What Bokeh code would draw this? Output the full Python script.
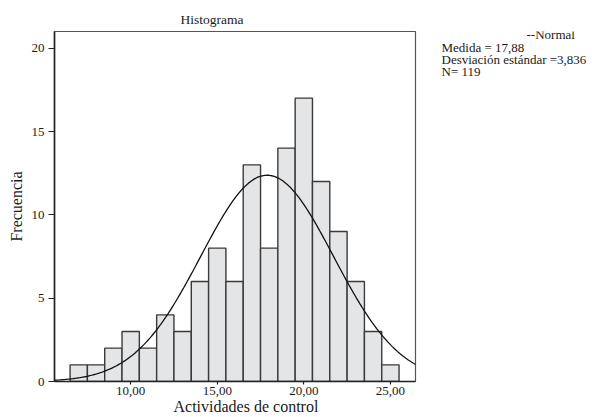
import numpy as np
from bokeh.plotting import figure
from bokeh.models import Label, FixedTicker, Title
from bokeh.layouts import row
from bokeh.embed import file_html
from bokeh.resources import INLINE

# ---- data ----
bin_centers = [7, 8, 9, 10, 11, 12, 13, 14, 15, 16, 17, 18, 19, 20, 21, 22, 23, 24, 25]
counts = [1, 1, 2, 3, 2, 4, 3, 6, 8, 6, 13, 8, 14, 17, 12, 9, 6, 3, 1]
bin_width = 1.0
x_ticks = [10, 15, 20, 25]
x_tick_labels = ["10,00", "15,00", "20,00", "25,00"]
y_ticks = [0, 5, 10, 15, 20]
mean_val = 17.88
sd_val = 3.836
n_val = 119
title_text = "Histograma"
x_label = "Actividades de control"
y_label = "Frecuencia"
legend_lines = ["Medida = 17,88", "Desviación estándar =3,836", "N= 119"]
legend_head = "--Normal"

FONT = "Liberation Serif"
TXT = "#1a1a1a"

X0, X1 = 5.6, 26.45
Y0, Y1 = 0.0, 21.0
H = 417
W1 = 425
W2 = 592 - W1

p = figure(width=W1, height=H, x_range=(X0, X1), y_range=(Y0, Y1),
           output_backend="svg", toolbar_location=None,
           min_border_left=54, min_border_right=W1 - 415,
           min_border_top=31, min_border_bottom=36)
p.background_fill_color = "white"
p.border_fill_color = "white"
p.outline_line_color = "#555555"
p.outline_line_width = 1.2
p.xgrid.visible = False
p.ygrid.visible = False

p.quad(left=[c - bin_width / 2 for c in bin_centers],
       right=[c + bin_width / 2 for c in bin_centers],
       bottom=0, top=counts,
       fill_color="#e4e5e7", line_color="#3a3a3a", line_width=1.4)

xs = np.linspace(X0, X1, 300)
ys = n_val * bin_width * np.exp(-0.5 * ((xs - mean_val) / sd_val) ** 2) / (sd_val * np.sqrt(2 * np.pi))
p.line(xs, ys, line_color="#111111", line_width=1.3)

for ax in (p.xaxis[0], p.yaxis[0]):
    ax.axis_line_color = "#222222"
    ax.axis_line_width = 1.6
    ax.major_tick_line_color = "#222222"
    ax.major_tick_line_width = 1.2
    ax.minor_tick_line_color = None
    ax.major_tick_in = 0
    ax.major_label_text_font = FONT
    ax.major_label_text_font_size = "13px"
    ax.major_label_text_color = TXT
    ax.axis_label_text_font = FONT
    ax.axis_label_text_font_size = "16px"
    ax.axis_label_text_font_style = "normal"
    ax.axis_label_text_color = TXT

p.xaxis.ticker = FixedTicker(ticks=x_ticks)
p.xaxis.major_label_overrides = {t: l for t, l in zip(x_ticks, x_tick_labels)}
p.xaxis.major_tick_out = 3
p.xaxis.major_label_standoff = 2

p.yaxis.ticker = FixedTicker(ticks=y_ticks)
p.yaxis.major_tick_out = 6
p.yaxis.major_label_standoff = 4
p.yaxis.axis_label = y_label
p.yaxis.axis_label_standoff = 4

p.add_layout(Title(text=title_text, align="left", offset=126, text_font=FONT,
                   text_font_size="13.5px", text_font_style="normal",
                   text_color=TXT), "above")
p.add_layout(Title(text=x_label, align="left", offset=119, standoff=-4, text_font=FONT,
                   text_font_size="16px", text_font_style="normal",
                   text_color=TXT), "below")

# right-hand panel with the normal-curve statistics
q = figure(width=W2, height=H, x_range=(0, 1), y_range=(0, 1),
           output_backend="svg", toolbar_location=None,
           x_axis_location=None, y_axis_location=None, min_border=0)
q.outline_line_color = None
q.xgrid.visible = False
q.ygrid.visible = False
q.background_fill_color = "white"
q.border_fill_color = "white"

def lab(text, px, py, size):
    q.add_layout(Label(x=px - W1, y=py, x_units="canvas", y_units="canvas", text=text,
                       text_font=FONT, text_font_size=size, text_color=TXT,
                       text_align="left", text_baseline="middle"))

lab(legend_head, 526, 34, "13px")
for i, t in enumerate(legend_lines):
    lab(t, 441, 47 + i * 11.8, "13px")

layout = row(p, q, spacing=0)
open("out.html", "w").write(file_html(layout, INLINE))
